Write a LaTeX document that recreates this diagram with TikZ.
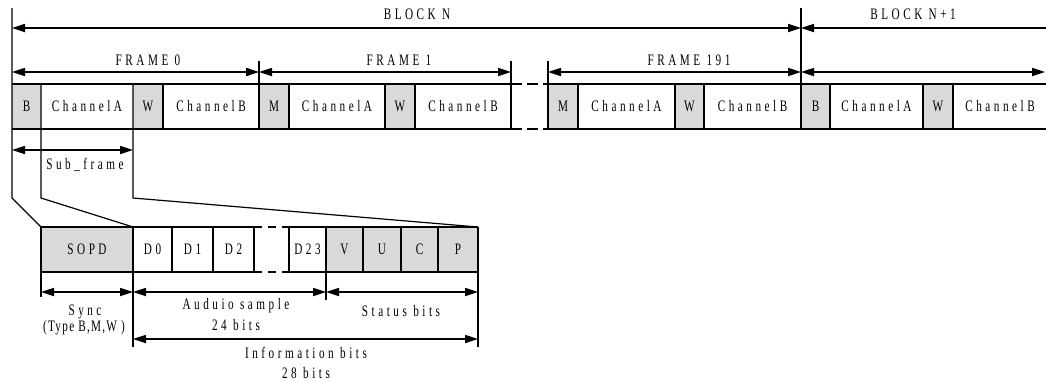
\documentclass[tikz,border=0pt]{standalone}
\usepackage{fontspec}
\setmainfont{Liberation Serif}[FakeStretch=0.7,LetterSpace=22]
\usetikzlibrary{arrows.meta}
\definecolor{cellgray}{HTML}{D9D9D9}

\begin{document}
\begin{tikzpicture}[x=1pt,y=-1pt,
  txt/.style={font=\fontsize{16}{18}\selectfont, inner sep=1pt},
  edge/.style={line width=1.2pt},
  dimarrow/.style={{Triangle[length=13pt,width=8pt]}-{Triangle[length=13pt,width=8pt]}, line width=1.7pt},
  leftarrow/.style={{Triangle[length=13pt,width=8pt]}-, line width=1.7pt}]
\useasboundingbox (0,0) rectangle (1046,381);

% upper row: gray fields
\foreach \a/\b in {12/41,133/163,259/289,385/415,548/578,675/704,801/830,923/953}
  \fill[cellgray] (\a,84) rectangle (\b,129);
\draw[edge] (12,84)--(511,84) (548,84)--(1046,84);
\draw[edge] (12,129)--(511,129) (548,129)--(1046,129);
\draw[edge,dash pattern=on 11pt off 5pt] (511,84)--(548,84) (511,129)--(548,129);
\foreach \x in {163,289,385,415,578,675,704,830,923,953}
  \draw[edge] (\x,84)--(\x,129);
\draw[edge] (259,61)--(259,129);
\draw[edge] (511,61)--(511,129);
\draw[edge] (548,61)--(548,129);
\draw[edge] (801,8)--(801,129);

% fan-out to the sub-frame
\draw[edge] (12,8)--(12,198)--(41,227);
\draw[edge] (41,84)--(41,198)--(133,227);
\draw[edge] (133,84)--(133,198)--(478,227);

% upper row: labels
\node[txt] (b1) at (26.5,106.5) {B};
\node[txt] (ca1) at (87,106.5) {ChannelA};
\node[txt] (w1) at (148,106.5) {W};
\node[txt] (cb1) at (211,106.5) {ChannelB};
\node[txt] (m2) at (274,106.5) {M};
\node[txt] (ca2) at (337,106.5) {ChannelA};
\node[txt] (w2) at (400,106.5) {W};
\node[txt] (cb2) at (463,106.5) {ChannelB};
\node[txt] (m3) at (563,106.5) {M};
\node[txt] (ca3) at (626.5,106.5) {ChannelA};
\node[txt] (w3) at (689.5,106.5) {W};
\node[txt] (cb3) at (752.5,106.5) {ChannelB};
\node[txt] (b4) at (815.5,106.5) {B};
\node[txt] (ca4) at (876.5,106.5) {ChannelA};
\node[txt] (w4) at (938,106.5) {W};
\node[txt] (cb4) at (1000,106.5) {ChannelB};

% block and frame spans
\coordinate (blkL) at (12,28);
\coordinate (blkM) at (801,28);
\coordinate (blkR) at (1046,28);
\coordinate (fr0) at (12,72);
\coordinate (fr1) at (259,72);
\coordinate (fr1e) at (511,72);
\coordinate (fr191) at (548,72);
\coordinate (fr192) at (801,72);
\coordinate (frR) at (1045,72);
\draw[dimarrow] (blkL)--(blkM);
\draw[leftarrow] (blkM)--(blkR);
\draw[dimarrow] (fr0)--(fr1);
\draw[dimarrow] (fr1)--(fr1e);
\draw[dimarrow] (fr191)--(fr192);
\draw[dimarrow] (fr192)--(frR);
\node[txt] (blockn) at (417,14) {BLOCK N};
\node[txt] (blocknn) at (913,14) {BLOCK N+1};
\node[txt] (frame0) at (148,60) {FRAME 0};
\node[txt] (frame1) at (399,60) {FRAME 1};
\node[txt] (frame191) at (689,60) {FRAME 191};

% sub-frame span
\coordinate (sfL) at (12,150);
\coordinate (sfR) at (133,150);
\draw[dimarrow] (sfL)--(sfR);
\node[txt] (subframe) at (85,165) {Sub\_frame};

% lower row: gray fields
\fill[cellgray] (41,227) rectangle (133,272);
\fill[cellgray] (326,227) rectangle (478,272);
\draw[edge] (41,227)--(254,227) (289,227)--(478,227);
\draw[edge] (41,272)--(254,272) (289,272)--(478,272);
\draw[edge,dash pattern=on 8pt off 6pt] (254,227)--(289,227) (254,272)--(289,272);
\foreach \x in {172,213,254,289,363,401,438}
  \draw[edge] (\x,227)--(\x,272);
\draw[edge] (41,227)--(41,297);
\draw[edge] (133,227)--(133,347);
\draw[edge] (326,227)--(326,300);
\draw[edge] (478,227)--(478,347);

% lower row: labels
\node[txt] (sopd) at (87,249.5) {SOPD};
\node[txt] (d0) at (152.5,249.5) {D0};
\node[txt] (d1) at (192.5,249.5) {D1};
\node[txt] (d2) at (233.5,249.5) {D2};
\node[txt] (d23) at (307.5,249.5) {D23};
\node[txt] (v) at (344.5,249.5) {V};
\node[txt] (u) at (382,249.5) {U};
\node[txt] (c) at (419.5,249.5) {C};
\node[txt] (p) at (458,249.5) {P};

% sub-frame spans
\coordinate (syncL) at (41,292);
\coordinate (syncR) at (133,292);
\coordinate (statL) at (326,292);
\coordinate (statR) at (478,292);
\coordinate (infoL) at (133,339);
\coordinate (infoR) at (478,339);
\draw[dimarrow] (syncL)--(syncR);
\draw[dimarrow] (syncR)--(statL);
\draw[dimarrow] (statL)--(statR);
\draw[dimarrow] (infoL)--(infoR);
\node[txt] (sync) at (85,312) {Sync};
\node[txt] (synctype) at (84,328) {\addfontfeature{LetterSpace=8}(Type B,M,W )};
\node[txt] (audio) at (236,306) {Auduio sample};
\node[txt] (audiobits) at (236,325) {24 bits};
\node[txt] (status) at (401,311) {Status bits};
\node[txt] (info) at (306,353) {Information bits};
\node[txt] (infobits) at (306,373) {28 bits};
\end{tikzpicture}
\end{document}
